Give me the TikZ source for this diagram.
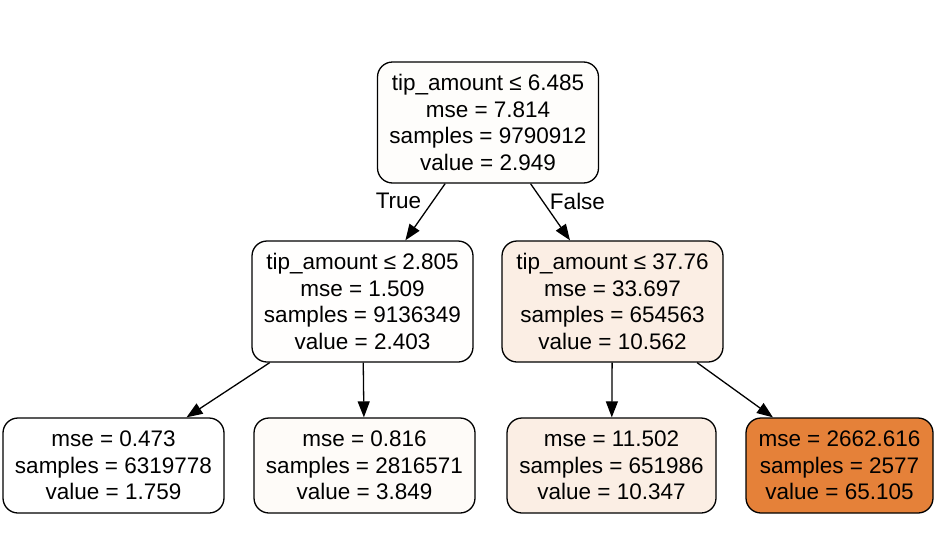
\documentclass[tikz,border=0pt]{standalone}
\usepackage{fontspec}
\setmainfont{Liberation Sans}
\usetikzlibrary{arrows.meta}
\definecolor{cRoot}{HTML}{FEFDFB}
\definecolor{cNa}{HTML}{FFFEFD}
\definecolor{cNb}{HTML}{FBEEE4}
\definecolor{cLa}{HTML}{FFFFFF}
\definecolor{cLb}{HTML}{FEFBF8}
\definecolor{cLc}{HTML}{FBEEE4}
\definecolor{cLd}{HTML}{E58139}
\begin{document}
\begin{tikzpicture}[x=1pt,y=-1pt,
  treebox/.style={draw=black, line width=1.3pt, rounded corners=15pt, inner sep=0pt,
    align=center, font=\fontsize{22.5}{26.5}\selectfont},
  splitbox/.style={treebox, minimum width=221pt, minimum height=121pt},
  leafbox/.style={treebox, minimum height=95pt},
  edge/.style={-{Triangle[length=16pt,width=12pt]}, line width=1.3pt},
  edgelabel/.style={font=\fontsize{22.5}{26.5}\selectfont, inner sep=0pt}]
\useasboundingbox (0,0) rectangle (937,557);
\node[splitbox, fill=cRoot] (root) at (488,122.5) {tip\_amount ≤ 6.485\\mse = 7.814\\samples = 9790912\\value = 2.949};
\node[splitbox, fill=cNa] (na) at (362.5,301.5) {tip\_amount ≤ 2.805\\mse = 1.509\\samples = 9136349\\value = 2.403};
\node[splitbox, fill=cNb] (nb) at (612.5,301.5) {tip\_amount ≤ 37.76\\mse = 33.697\\samples = 654563\\value = 10.562};
\node[leafbox, minimum width=221pt, fill=cLa] (la) at (113.5,465.5) {mse = 0.473\\samples = 6319778\\value = 1.759};
\node[leafbox, minimum width=221pt, fill=cLb] (lb) at (364.5,465.5) {mse = 0.816\\samples = 2816571\\value = 3.849};
\node[leafbox, minimum width=209pt, fill=cLc] (lc) at (611.5,465.5) {mse = 11.502\\samples = 651986\\value = 10.347};
\node[leafbox, minimum width=187pt, fill=cLd] (ld) at (839.5,465.5) {mse = 2662.616\\samples = 2577\\value = 65.105};
\draw[edge] (root) -- (na);
\draw[edge] (root) -- (nb);
\draw[edge] (na) -- (la);
\draw[edge] (na) -- (lb);
\draw[edge] (nb) -- (lc);
\draw[edge] (nb) -- (ld);
\node[edgelabel] (ltrue) at (398.5,201) {True};
\node[edgelabel] (lfalse) at (577.5,201) {False};
\end{tikzpicture}
\end{document}
